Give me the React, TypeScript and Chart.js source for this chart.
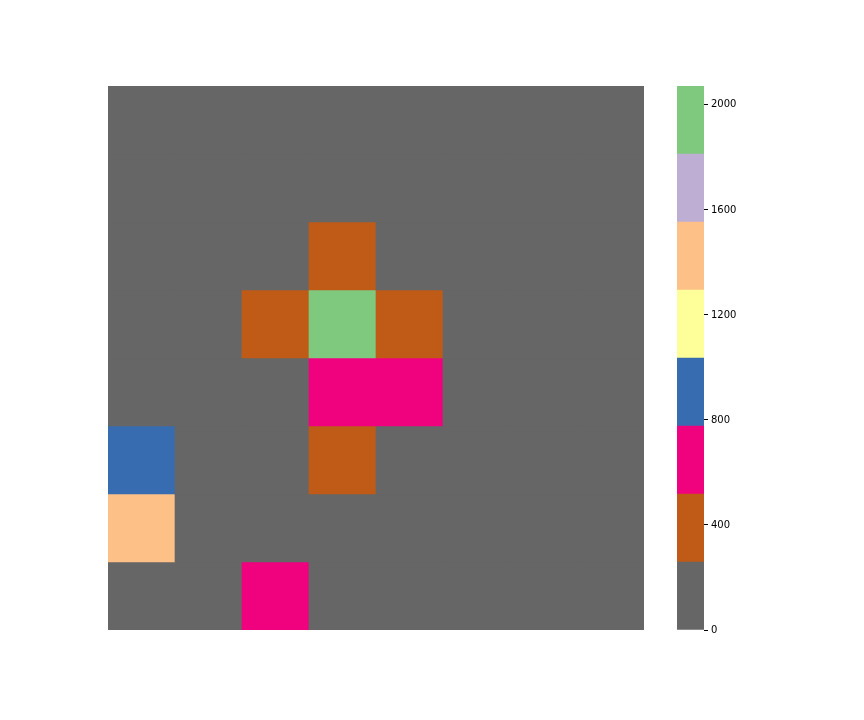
import React, { useEffect, useRef } from "react";
import { Chart, registerables } from "chart.js";

Chart.register(...registerables);

// Heatmap values, rows top → bottom, columns left → right
const row0 = [0, 0, 0, 0, 0, 0, 0, 0];
const row1 = [0, 0, 0, 0, 0, 0, 0, 0];
const row2 = [0, 0, 0, 390, 0, 0, 0, 0];
const row3 = [0, 0, 390, 2072, 390, 0, 0, 0];
const row4 = [0, 0, 0, 650, 650, 0, 0, 0];
const row5 = [900, 0, 0, 390, 0, 0, 0, 0];
const row6 = [1420, 0, 0, 0, 0, 0, 0, 0];
const row7 = [0, 0, 650, 0, 0, 0, 0, 0];
const rows = [row0, row1, row2, row3, row4, row5, row6, row7];
const columns = ["0", "1", "2", "3", "4", "5", "6", "7"];

const vmin = 0;
const vmax = 2072;
// Accent_r colormap (low → high)
const palette = ["#666666", "#bf5b17", "#f0027f", "#386cb0", "#ffff99", "#fdc086", "#beaed4", "#7fc97f"];
const colorbarTicks = [0, 400, 800, 1200, 1600, 2000];

function colorFor(v: number) {
  let idx = Math.floor(((v - vmin) / (vmax - vmin)) * palette.length);
  if (idx < 0) idx = 0;
  if (idx >= palette.length) idx = palette.length - 1;
  return palette[idx];
}

export default function App() {
  const heatRef = useRef<HTMLCanvasElement>(null);
  const barRef = useRef<HTMLCanvasElement>(null);

  useEffect(() => {
    const heat = new Chart(heatRef.current!, {
      type: "bar",
      data: {
        labels: columns,
        datasets: rows.map((row, r) => ({
          data: row.map(() => [r, r + 1]) as any,
          backgroundColor: row.map((v) => colorFor(v)),
          borderWidth: 0,
          barPercentage: 1,
          categoryPercentage: 1,
        })),
      },
      options: {
        animation: false,
        responsive: false,
        maintainAspectRatio: false,
        layout: { padding: { left: 108, top: 86, right: 220, bottom: 90 } },
        plugins: { legend: { display: false }, tooltip: { enabled: false } },
        scales: {
          x: { stacked: true, display: false, offset: true },
          y: { stacked: false, display: false, min: 0, max: rows.length, reverse: true },
        },
      },
    });

    const bandSize = (vmax - vmin) / palette.length;
    const bar = new Chart(barRef.current!, {
      type: "bar",
      data: {
        labels: [""],
        datasets: palette.map((col) => ({
          data: [bandSize],
          backgroundColor: col,
          borderWidth: 0,
          barPercentage: 1,
          categoryPercentage: 1,
        })),
      },
      options: {
        animation: false,
        responsive: false,
        maintainAspectRatio: false,
        layout: { padding: { left: 677, top: 86, right: 0, bottom: 90 } },
        plugins: { legend: { display: false }, tooltip: { enabled: false } },
        scales: {
          x: { stacked: true, display: false },
          y: {
            stacked: true,
            position: "right",
            min: vmin,
            max: vmax,
            afterBuildTicks: (s: any) => {
              s.ticks = colorbarTicks.map((v) => ({ value: v }));
            },
            afterFit: (s: any) => {
              s.width = 160;
            },
            border: { display: false },
            grid: { drawOnChartArea: false, tickLength: 4, color: "#000", tickWidth: 1 },
            ticks: {
              color: "#000",
              padding: 3,
              font: { family: "DejaVu Sans", size: 10 },
              callback: (v: any) => String(v),
            },
          },
        },
      },
    });

    return () => {
      heat.destroy();
      bar.destroy();
    };
  }, []);

  return (
    <div style={{ position: "absolute", left: 0, top: 0, width: 864, height: 720, background: "#fff" }}>
      <canvas ref={heatRef} width={864} height={720} style={{ position: "absolute", left: 0, top: 0 }} />
      <canvas ref={barRef} width={864} height={720} style={{ position: "absolute", left: 0, top: 0 }} />
    </div>
  );
}
